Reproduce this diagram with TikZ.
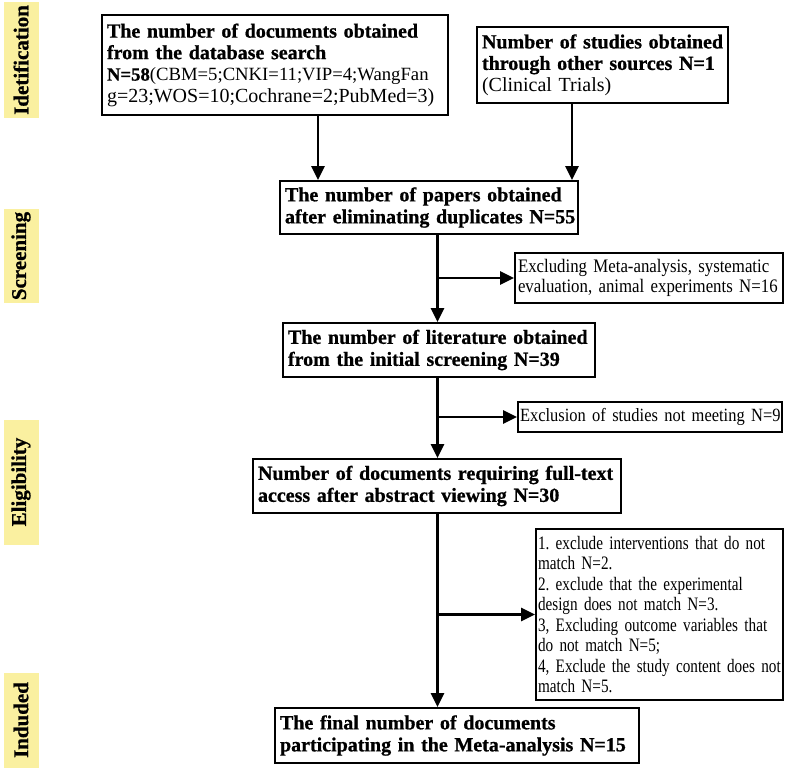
\documentclass[tikz,border=0pt]{standalone}
\usepackage{fontspec}
\setmainfont{Liberation Serif}[BoldFeatures={FakeBold=0.8}]
\newfontfamily\condfont[FakeStretch=0.88]{Liberation Serif}
\newfontfamily\condfontb[FakeStretch=0.80]{Liberation Serif}
\usetikzlibrary{arrows.meta}
\definecolor{labyel}{RGB}{250,240,160}
\frenchspacing
\begin{document}
\begin{tikzpicture}[x=1pt,y=-1pt,
  bx/.style={draw, line width=1.8pt, inner xsep=5pt, inner ysep=0pt, align=left,
    font=\fontsize{20}{21.5}\selectfont},
  bxb/.style={bx, font=\fontsize{20}{22}\selectfont\bfseries},
  ex/.style={draw, line width=1.8pt, inner xsep=3pt, inner ysep=0pt, align=left,
    font=\condfont\fontsize{19.1}{20.5}\selectfont},
  arr/.style={line width=2.8pt, -{Triangle[length=14pt,width=13pt]}},
  lab/.style={fill=labyel, rotate=90, minimum height=35pt, inner sep=0pt,
    font=\fontsize{21}{21}\selectfont\bfseries}
]
\fill[white] (0,0) rectangle (800,770);
\useasboundingbox (0,0) rectangle (800,770);

% side labels
\node[lab, minimum width=116pt] (L1) at (21,60) {Idetification};
\node[lab, minimum width=94pt] (L2) at (21,256) {Screening};
\node[lab, minimum width=125pt] (L3) at (21,482) {Eligibility};
\node[lab, minimum width=95pt] (L4) at (21,720) {Induded};

% main boxes
\node[bx, text width=336pt, minimum height=100pt] (db) at (275,65)
 {\mbox{\bfseries The number of documents obtained}\\
  \mbox{\bfseries from the database search}\\
  \mbox{\fontsize{18.7}{21.5}\selectfont{\bfseries N=58}(CBM=5;CNKI=11;VIP=4;WangFan}\\
  \mbox{g=23;WOS=10;Cochrane=2;PubMed=3)}};
\node[bx, text width=241pt, minimum height=76pt] (oth) at (602.5,65)
 {\mbox{\bfseries Number of studies obtained}\\
  \mbox{\bfseries through other sources N=1}\\
  \mbox{(Clinical Trials)}};
\node[bxb, text width=288pt, minimum height=53pt] (dup) at (429,207.5)
 {\mbox{The number of papers obtained}\\\mbox{after eliminating duplicates N=55}};
\node[bxb, text width=302pt, minimum height=54pt] (scr) at (439,350)
 {\mbox{The number of literature obtained}\\\mbox{from the initial screening N=39}};
\node[bxb, text width=358pt, minimum height=54pt] (full) at (437,486)
 {\mbox{Number of documents requiring full-text}\\\mbox{access after abstract viewing N=30}};
\node[bxb, text width=354pt, minimum height=55pt] (final) at (457,735.5)
 {\mbox{The final number of documents}\\\mbox{participating in the Meta-analysis N=15}};

% exclusion boxes
\node[ex, text width=262pt, minimum height=50pt] (ex1) at (649,278)
 {\mbox{Excluding Meta-analysis, systematic}\\\mbox{evaluation, animal experiments N=16}};
\node[ex, text width=260pt, minimum height=30pt, inner xsep=2pt] (ex2) at (650,417)
 {\mbox{\fontsize{18.7}{20}\selectfont Exclusion of studies not meeting N=9}};
\node[ex, text width=243pt, minimum height=171pt, inner xsep=2pt,
      font=\condfontb\fontsize{19}{20.5}\selectfont] (ex3) at (659.5,614.5)
 {\mbox{1. exclude interventions that do not}\\
  \mbox{match N=2.}\\
  \mbox{2. exclude that the experimental}\\
  \mbox{design does not match N=3.}\\
  \mbox{3, Excluding outcome variables that}\\
  \mbox{do not match N=5;}\\
  \mbox{4, Exclude the study content does not}\\
  \mbox{match N=5.}};

% connector guides
\coordinate (c1) at (318,0);
\coordinate (c2) at (572,0);
\coordinate (t) at (437.5,0);

\draw[arr] (db.south -| c1) -- (dup.north -| c1);
\draw[arr] (oth.south -| c2) -- (dup.north -| c2);
\draw[arr] (dup.south -| t) -- (scr.north -| t);
\draw[arr] (ex1.west -| t) -- (ex1.west);
\draw[arr] (scr.south -| t) -- (full.north -| t);
\draw[arr] (ex2.west -| t) -- (ex2.west);
\draw[arr] (full.south -| t) -- (final.north -| t);
\draw[arr] (ex3.west -| t) -- (ex3.west);
\end{tikzpicture}
\end{document}
